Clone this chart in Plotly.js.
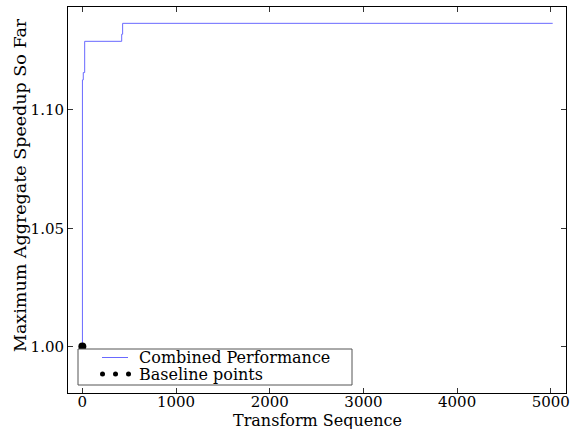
<!DOCTYPE html>
<html>
<head>
<meta charset="utf-8">
<script src="https://cdn.plot.ly/plotly-3.0.1.min.js"></script>
<style>
  html, body { margin: 0; padding: 0; background: #fff; }
  #chart { width: 575px; height: 429px; }
</style>
</head>
<body>
<div id="chart"></div>
<script>
// Running maximum of the aggregate speedup over the transform sequence
const transformStep = [0, 1, 10, 25, 420, 430, 5020];
const maxSpeedup    = [1.000, 1.1127, 1.1158, 1.1290, 1.1320, 1.1366, 1.1366];

// Baseline measurement
const baselineStep = [0];
const baselineSpeedup = [1.000];

const xTicks = [0, 1000, 2000, 3000, 4000, 5000];
const yTicks = [1.00, 1.05, 1.10];

const seriesNames = ["Combined Performance", "Baseline points"];
const xTitle = "Transform Sequence";
const yTitle = "Maximum Aggregate Speedup So Far";

const FONT = "DejaVu Serif, Liberation Serif, serif";
const LINE_BLUE = "rgb(105,105,255)";

const traces = [
  {
    x: transformStep,
    y: maxSpeedup,
    mode: "lines",
    line: { color: LINE_BLUE, width: 1, shape: "hv" },
    name: seriesNames[0],
    hoverinfo: "skip"
  },
  {
    x: baselineStep,
    y: baselineSpeedup,
    mode: "markers",
    marker: { color: "black", size: 8 },
    name: seriesNames[1],
    cliponaxis: false,
    hoverinfo: "skip"
  }
];

// Plot area in pixels: x 68..566, y 7..393
const W = 575, H = 429;
const L = 68, R = 566, T = 7, B = 393;
const px = v => (v - L) / (R - L);
const py = v => (B - v) / (B - T);

// Hand-built legend box (line sample + three scatter dots)
const legendShapes = [
  { type: "rect", xref: "paper", yref: "paper",
    x0: px(78), x1: px(352), y0: py(385), y1: py(349),
    line: { color: "#555", width: 1 }, fillcolor: "white", layer: "above" },
  { type: "line", xref: "paper", yref: "paper",
    x0: px(102), x1: px(128), y0: py(357.5), y1: py(357.5),
    line: { color: LINE_BLUE, width: 1 }, layer: "above" }
];
[102.5, 115.5, 128.5].forEach(cx => {
  legendShapes.push({
    type: "circle", xref: "paper", yref: "paper",
    xsizemode: "pixel", ysizemode: "pixel",
    xanchor: px(cx), yanchor: py(374),
    x0: -2.5, x1: 2.5, y0: -2.5, y1: 2.5,
    fillcolor: "black", line: { color: "black", width: 0 }, layer: "above"
  });
});

const annotations = [
  { text: seriesNames[0], y: py(357.5) },
  { text: seriesNames[1], y: py(374) }
].map(o => ({
  xref: "paper", yref: "paper", x: px(137), y: o.y,
  xanchor: "left", yanchor: "middle", showarrow: false,
  text: o.text, font: { family: FONT, size: 16, color: "black" }
}));

// Axis titles
annotations.push({
  xref: "paper", yref: "paper", x: px(317), y: py(420),
  xanchor: "center", yanchor: "middle", showarrow: false,
  text: xTitle, font: { family: FONT, size: 16, color: "black" }
});
annotations.push({
  xref: "paper", yref: "paper", x: px(20), y: py(185),
  xanchor: "center", yanchor: "middle", showarrow: false, textangle: -90,
  text: yTitle, font: { family: FONT, size: 17.5, color: "black" }
});

const axisCommon = {
  showgrid: false, zeroline: false,
  showline: true, linecolor: "black", linewidth: 1, mirror: "allticks",
  ticks: "inside", ticklen: 5, tickwidth: 1, tickcolor: "#333",
  tickfont: { family: FONT, size: 15, color: "black" }
};

const layout = {
  width: W, height: H,
  margin: { l: L, r: W - R, t: T, b: H - B, pad: 0 },
  paper_bgcolor: "white", plot_bgcolor: "white",
  showlegend: false,
  xaxis: Object.assign({}, axisCommon, {
    range: [-153, 5162],
    tickvals: xTicks, ticktext: xTicks.map(String),
    ticklabelstandoff: -5
  }),
  yaxis: Object.assign({}, axisCommon, {
    range: [0.9804, 1.1435],
    tickvals: yTicks, ticktext: yTicks.map(v => v.toFixed(2))
  }),
  shapes: legendShapes,
  annotations: annotations
};

Plotly.newPlot("chart", traces, layout, { staticPlot: true, displayModeBar: false });
</script>
</body>
</html>
